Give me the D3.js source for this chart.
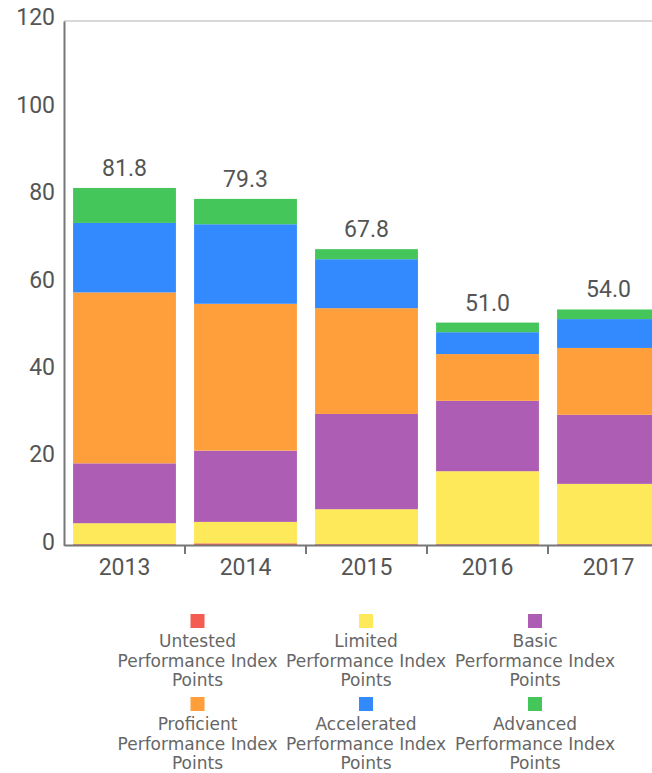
<!DOCTYPE html>
<html>
<head>
<meta charset="utf-8">
<script src="https://cdn.jsdelivr.net/npm/d3@7"></script>
<style>
  body { margin: 0; background: #fff; }
  svg { display: block; }
</style>
</head>
<body>
<svg></svg>
<script>
let years = ["2013", "2014", "2015", "2016", "2017"]
let untested = [0.3, 0.5, 0.3, 0.3, 0.3]
let limited = [4.8, 4.9, 8.0, 16.7, 13.8]
let basic = [13.7, 16.3, 21.8, 16.1, 15.8]
let proficient = [39.1, 33.6, 24.2, 10.7, 15.3]
let accelerated = [15.9, 18.2, 11.2, 5.0, 6.6]
let advanced = [8.0, 5.8, 2.3, 2.2, 2.2]
let totals = [81.8, 79.3, 67.8, 51.0, 54.0]

let seriesNames = ["Untested", "Limited", "Basic", "Proficient", "Accelerated", "Advanced"]
let colors = ["#f45c51", "#fee95a", "#ad5eb4", "#fe9f3c", "#3389fe", "#44c65b"]
let yTicks = [0, 20, 40, 60, 80, 100, 120]

let width = 652, height = 773
let plotLeft = 64, plotTop = 21, plotBottom = 545.5

let rows = years.map((y, i) => ({
  year: y, Untested: untested[i], Limited: limited[i], Basic: basic[i],
  Proficient: proficient[i], Accelerated: accelerated[i], Advanced: advanced[i], total: totals[i]
}))

let svg = d3.select('svg').attr('width', width).attr('height', height)

let x = d3.scaleBand().domain(years).range([plotLeft, 669]).paddingInner(0.15).paddingOuter(0.075)
let y = d3.scaleLinear().domain([0, 120]).range([plotBottom, plotTop])
let color = d3.scaleOrdinal().domain(seriesNames).range(colors)

let stack = d3.stack().keys(seriesNames)(rows)

// bars
svg.append('g').selectAll('g')
  .data(stack)
  .enter().append('g')
  .attr('fill', d => color(d.key))
  .selectAll('rect')
  .data(d => d)
  .enter().append('rect')
  .attr('x', d => x(d.data.year))
  .attr('y', d => y(d[1]))
  .attr('height', d => y(d[0]) - y(d[1]))
  .attr('width', x.bandwidth())

// top frame line
svg.append('line').attr('x1', plotLeft).attr('x2', width).attr('y1', plotTop).attr('y2', plotTop)
  .attr('stroke', '#ccc').attr('stroke-width', 1.5)

// y axis
let yAxis = svg.append('g').attr('transform', 'translate(' + plotLeft + ',0)')
  .call(d3.axisLeft(y).tickValues(yTicks).tickSize(0).tickPadding(9))
yAxis.select('.domain').attr('stroke', '#777').attr('stroke-width', 2)
yAxis.selectAll('text')
  .attr('font-family', 'Roboto, sans-serif').attr('font-size', 23)
  .attr('fill', '#555')
  .attr('transform', 'translate(0,-3.5)')

// x axis
let xAxis = svg.append('g').attr('transform', 'translate(0,' + (plotBottom - 0.5) + ')')
  .call(d3.axisBottom(x).tickSize(0).tickPadding(0))
xAxis.select('.domain').attr('stroke', '#777').attr('stroke-width', 2)
xAxis.selectAll('text')
  .attr('font-family', 'Roboto, sans-serif').attr('font-size', 23)
  .attr('fill', '#555').attr('dy', null).attr('y', 30)

// boundary ticks between bands
let half = x.step() * x.paddingInner() / 2
xAxis.selectAll('.sep')
  .data(years.slice(1))
  .enter().append('line')
  .attr('x1', d => x(d) - half).attr('x2', d => x(d) - half)
  .attr('y1', 0).attr('y2', 9)
  .attr('stroke', '#777').attr('stroke-width', 2)

// totals
svg.append('g').selectAll('text')
  .data(rows)
  .enter().append('text')
  .attr('x', d => x(d.year) + x.bandwidth() / 2)
  .attr('y', d => y(d.total) - 12)
  .attr('text-anchor', 'middle')
  .attr('font-family', 'Roboto, sans-serif').attr('font-size', 23)
  .attr('fill', '#555')
  .text(d => d.total.toFixed(1))

// legend
let legendX = [197.5, 366, 535]
let legendY = [614, 697]
let legend = svg.append('g').selectAll('g')
  .data(seriesNames)
  .enter().append('g')
  .attr('transform', (d, i) => 'translate(' + legendX[i % 3] + ',' + legendY[Math.floor(i / 3)] + ')')

legend.append('rect')
  .attr('x', -7).attr('y', 0).attr('width', 14).attr('height', 14)
  .attr('fill', d => color(d))

let lt = legend.append('text')
  .attr('text-anchor', 'middle')
  .attr('font-family', '"DejaVu Sans", sans-serif').attr('font-size', 17)
  .attr('fill', '#666')
lt.each(function (d) {
  let t = d3.select(this)
  let lines = [d, 'Performance Index', 'Points']
  lines.forEach((s, j) => {
    t.append('tspan').attr('x', 0).attr('y', 33 + j * 19.5).text(s)
  })
})
</script>
</body>
</html>
